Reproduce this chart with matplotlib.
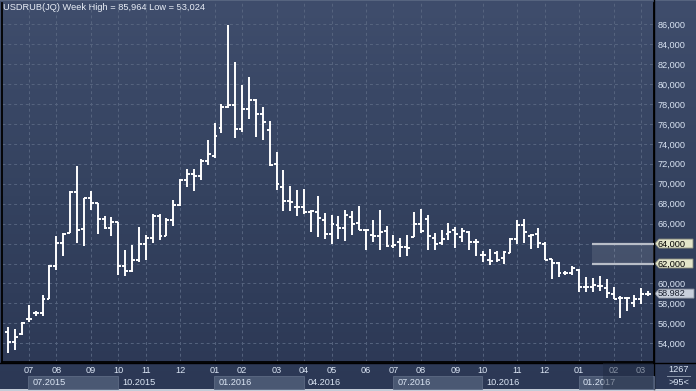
import matplotlib
matplotlib.use('Agg')
import matplotlib.pyplot as plt
import numpy as np
from matplotlib.colors import LinearSegmentedColormap
from matplotlib.patches import Rectangle, Polygon
import matplotlib.transforms as mtransforms

# ---------------- data (weekly OHLC, USDRUB) ----------------
opens = [55.17, 54.13, 54.90, 56.40, 57.00, 57.00, 58.40, 61.73, 64.07, 65.07,
         69.17, 65.47, 68.53, 68.07, 66.47, 65.53, 66.20, 61.73, 61.23, 62.40,
         64.00, 64.60, 66.80, 64.80, 66.40, 67.90, 70.40, 71.00, 70.80, 72.30,
         72.80, 75.60, 77.70, 77.90, 75.50, 77.50, 78.40, 77.00, 75.40, 72.00,
         69.70, 68.30, 67.70, 67.67, 67.13, 67.13, 66.33, 65.00, 65.90, 65.57,
         66.67, 66.07, 65.40, 64.87, 64.73, 65.23, 63.80, 64.13, 63.67, 64.67,
         66.00, 66.47, 64.60, 64.07, 65.00, 65.33, 64.63, 65.13, 64.13, 62.90,
         62.40, 63.07, 62.57, 63.07, 64.50, 65.90, 64.80, 65.00, 64.00, 62.47,
         62.07, 61.00, 61.00, 61.33, 59.67, 59.67, 59.73, 59.57, 58.90, 58.57,
         58.57, 58.07, 58.47, 58.90]
highs = [55.67, 55.40, 56.13, 57.80, 57.23, 58.80, 61.80, 64.80, 65.07, 69.23,
         71.73, 68.53, 69.23, 68.07, 66.80, 66.67, 66.20, 63.40, 63.90, 65.63,
         64.90, 67.00, 67.00, 66.57, 68.40, 70.47, 71.47, 71.47, 72.47, 74.40,
         76.13, 78.00, 85.96, 82.23, 79.90, 80.73, 78.47, 77.67, 76.30, 73.23,
         71.40, 69.73, 69.33, 69.47, 67.33, 68.80, 67.07, 66.90, 66.73, 67.40,
         67.30, 67.80, 65.47, 66.40, 67.33, 65.80, 64.90, 64.57, 64.90, 67.17,
         67.47, 66.90, 65.07, 65.40, 66.07, 65.67, 65.57, 65.23, 64.47, 63.23,
         63.47, 63.30, 63.23, 64.57, 66.40, 66.47, 65.00, 65.57, 64.13, 62.47,
         62.13, 61.23, 61.73, 61.40, 60.67, 60.57, 60.73, 60.47, 59.67, 58.73,
         58.67, 58.80, 59.57, 59.23]
lows = [53.02, 53.33, 54.85, 56.13, 56.73, 56.73, 58.40, 61.33, 62.73, 65.07,
        64.07, 63.73, 67.33, 64.97, 65.47, 64.80, 60.80, 60.73, 61.17, 62.17,
        62.33, 64.07, 64.33, 64.73, 65.73, 67.73, 69.67, 69.23, 70.40, 71.90,
        72.57, 75.07, 77.60, 74.57, 75.23, 76.50, 74.67, 74.40, 71.73, 69.40,
        67.23, 67.23, 66.80, 67.00, 65.13, 64.63, 64.47, 64.00, 64.50, 64.23,
        64.90, 65.40, 63.33, 64.13, 63.33, 63.67, 63.57, 62.67, 62.73, 64.67,
        65.07, 63.33, 63.33, 63.90, 64.33, 63.57, 64.13, 63.33, 62.80, 62.13,
        61.80, 62.13, 62.00, 63.07, 64.00, 64.07, 63.47, 63.57, 62.33, 60.47,
        60.67, 60.80, 60.80, 59.13, 59.13, 59.13, 59.23, 58.57, 58.40, 56.57,
        57.23, 57.67, 57.90, 58.73]
closes = [54.13, 54.67, 56.07, 56.47, 57.07, 58.40, 61.73, 64.07, 65.00, 69.17,
          65.33, 68.53, 68.07, 66.47, 65.53, 66.20, 61.73, 61.23, 62.33, 64.00,
          64.60, 66.80, 64.73, 66.40, 67.90, 70.40, 71.00, 70.73, 72.30, 73.00,
          74.80, 77.70, 77.90, 75.50, 77.50, 78.40, 77.00, 76.20, 71.90, 70.00,
          68.30, 68.20, 67.67, 67.17, 67.27, 66.57, 65.00, 65.93, 65.57, 66.87,
          66.00, 65.40, 65.40, 64.80, 65.20, 63.73, 63.90, 63.67, 63.57, 66.00,
          65.23, 64.80, 64.00, 64.47, 65.13, 64.97, 65.23, 64.13, 64.13, 62.83,
          62.23, 62.33, 63.13, 64.50, 65.90, 65.20, 64.90, 64.07, 62.40, 62.07,
          61.00, 61.00, 61.57, 59.67, 59.67, 59.80, 59.73, 59.00, 58.47, 58.57,
          58.50, 58.47, 58.90, 58.982]

month_idx = [3, 7, 12, 16, 20, 25, 30, 34, 39, 43, 47, 52, 56, 60, 65, 69, 74, 78, 83, 88, 92]
month_labels = ['07', '08', '09', '10', '11', '12', '01', '02', '03', '04', '05',
                '06', '07', '08', '09', '10', '11', '12', '01', '02', '03']
quarter_idx = [3, 16, 30, 43, 56, 69, 83]
quarter_labels = ['07.2015', '10.2015', '01.2016', '04.2016', '07.2016', '10.2016', '01.2017']
ytick_vals = list(range(54, 87, 2))
ytick_labels = [f"{v},000" for v in ytick_vals]
level_lines = [64.0, 62.0]
last_price = 58.982
title = "USDRUB(JQ) Week High = 85,964 Low = 53,024"

# ---------------- figure ----------------
W, H = 696, 391
fig = plt.figure(figsize=(W / 100, H / 100), dpi=100)
bg = fig.add_axes([0, 0, 1, 1])
bg.set_axis_off()
bg.set_xlim(0, W)
bg.set_ylim(H, 0)
cmap = LinearSegmentedColormap.from_list('g', ['#3f4d6c', '#34425f', '#2c3855'])
grad = np.linspace(0, 1, 256).reshape(-1, 1)
bg.imshow(grad, aspect='auto', cmap=cmap, extent=[0, W, H, 0], zorder=0)

# bottom x-axis band decorations (pixel space)
for k, q in enumerate(quarter_idx):
    pass

font = 'Liberation Sans'
lab_col = '#dbe5f4'

ax = fig.add_axes([2 / W, 1 - 362 / H, 652 / W, 359 / H])
ax.set_facecolor('none')
ax.set_xlim(-0.90, 93.87)
ax.set_ylim(52.12, 88.13)

# grid
ax.set_xticks(month_idx)
ax.set_xticklabels(month_labels, fontsize=6.6, color=lab_col, family=font)
ax.set_yticks(ytick_vals)
ax.set_yticklabels(ytick_labels, fontsize=6.6, color=lab_col, family=font)
ax.yaxis.tick_right()
ax.tick_params(axis='both', length=0)
ax.tick_params(axis='x', pad=3.2)
ax.tick_params(axis='y', pad=2.4)
ax.grid(True, color='#56647f', lw=0.7, ls=(0, (3, 3)))
ax.set_axisbelow(True)
for s in ['top']:
    ax.spines[s].set_visible(False)
for s in ['left', 'right', 'bottom']:
    ax.spines[s].set_color('black')
    ax.spines[s].set_linewidth(1.3)

# OHLC bars
idx = np.arange(len(opens))
tick = 0.42
ax.vlines(idx, lows, highs, color='white', lw=1.4, zorder=5)
ax.hlines(opens, idx - tick, idx, color='white', lw=1.4, zorder=5)
ax.hlines(closes, idx, idx + tick, color='white', lw=1.4, zorder=5)

# level lines with band
x0 = 84.9
ax.fill_between([x0, 93.87], level_lines[1], level_lines[0], color='white', alpha=0.1, lw=0, zorder=3)
for lv in level_lines:
    ax.plot([x0, 93.87], [lv, lv], color='#b9bec8', lw=1.6, zorder=4, solid_capstyle='butt')

# tags on the right axis
trans = mtransforms.blended_transform_factory(fig.transFigure, ax.transData)
def y_px(v):
    return H - ax.transData.transform((0, v))[1]

fig.canvas.draw()
for lv in level_lines:
    yp = y_px(lv)
    poly = Polygon([[655, yp], [659, yp - 4.5], [693, yp - 4.5], [693, yp + 4.5], [659, yp + 4.5]],
                   closed=True, facecolor='#e3e5c9', edgecolor='#8d8f80', lw=0.6, zorder=2)
    bg.add_patch(poly)
for lab in ax.get_yticklabels():
    if lab.get_text() in ('64,000', '62,000'):
        lab.set_color('black')

yp = y_px(last_price)
poly = Polygon([[655, yp], [659, yp - 4.5], [694, yp - 4.5], [694, yp + 4.5], [659, yp + 4.5]],
               closed=True, facecolor='#c9d0dc', edgecolor='#8c93a0', lw=0.6, zorder=2)
bg.add_patch(poly)
ax.text(1.0, last_price, f"{last_price:,.3f}", transform=mtransforms.blended_transform_factory(ax.transAxes, ax.transData),
        ha='left', va='center', fontsize=6.6, color='#1a2030', family=font, clip_on=False, zorder=6)
# shift the text to match tick label position
ax.texts[-1].set_position((1.0 + 3.4 / 652, last_price))

# quarter boxes in the bottom band
qtrans = mtransforms.blended_transform_factory(ax.transData, fig.transFigure)
ends = quarter_idx[1:] + [93.87]
for k, (a, b) in enumerate(zip(quarter_idx, ends)):
    xa = a - 0.06
    if k % 2 == 0:
        r = Rectangle((xa, 1 - 389 / H), b - a, 13 / H, transform=qtrans, facecolor='#4a5873',
                      edgecolor='#5d6a84', lw=0.6, clip_on=False, zorder=1)
        ax.add_patch(r)
    ax.text(xa + 0.6, 1 - 382.5 / H, quarter_labels[k], transform=qtrans, fontsize=6.6,
            color=lab_col, family=font, ha='left', va='center', clip_on=False, zorder=2)

# bottom strip, dark overlay, separators
bg.add_patch(Rectangle((0, 389), W, 2, facecolor='#c5ccd8', edgecolor='none', zorder=3))
bg.add_patch(Rectangle((0, 0), W, 1.2, facecolor='#56647f', edgecolor='none', zorder=3))
ov = Rectangle((603, 363), 50, 26, facecolor='#1f2a40', alpha=0.45, edgecolor='none', zorder=10,
               transform=bg.transData)
fig.patches.append(ov)
ov.set_figure(fig)
bg.plot([0, W], [362.5, 362.5], color='black', lw=1.0, zorder=4)
bg.plot([654, 654], [0, 389], color='black', lw=1.0, zorder=4)
bg.plot([667, 690], [375.5, 375.5], color='#8a96aa', lw=0.7, zorder=4)
bg.text(678.5, 369.5, '1267', fontsize=6.6, color=lab_col, family=font, ha='center', va='center', zorder=5)
bg.text(678.5, 382.5, '>95<', fontsize=6.6, color=lab_col, family=font, ha='center', va='center', zorder=5)

# title
bg.text(3, 7.5, title, fontsize=6.7, color='#e8edf6', family=font, ha='left', va='center', zorder=5)

fig.savefig('out.png', dpi=100)
